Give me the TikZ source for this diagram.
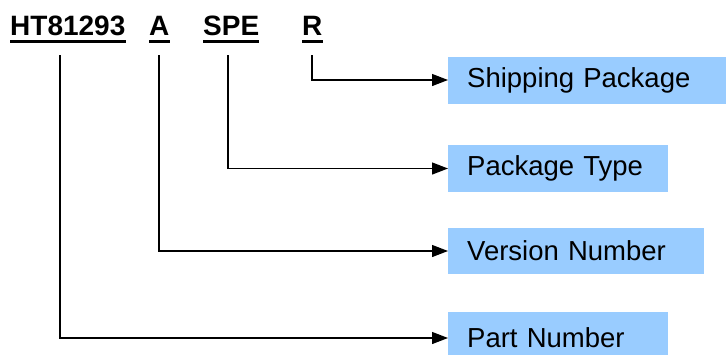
\documentclass[tikz,border=0pt]{standalone}
\usepackage{fontspec}
\setmainfont{Liberation Sans}
\usetikzlibrary{arrows.meta,calc}
\definecolor{boxblue}{RGB}{153,204,255}
\begin{document}
\begin{tikzpicture}[x=1pt,y=-1pt,
  code/.style={font=\fontsize{28}{30}\selectfont\bfseries, inner sep=0pt, anchor=base west},
  uline/.style={line width=2.6pt},
  lead/.style={line width=1.3pt, -{Triangle[length=16pt,width=12pt]}},
  infobox/.style={fill=boxblue, anchor=west, inner xsep=19pt, inner ysep=0pt, align=left,
    font=\fontsize{27.5}{30}\selectfont}]
\useasboundingbox (0,0) rectangle (726,354);
% code labels
\node[code] (ht) at (10,35) {HT81293};
\node[code] (a) at (149,35) {A};
\node[code] (spe) at (203,35) {SPE};
\node[code] (r) at (302,35) {R};
\foreach \n in {ht,a,spe,r}{
  \draw[uline] ($(\n.base west)+(0,6.5)$) -- ($(\n.base east)+(0,6.5)$);
}
% line starts
\coordinate (hts) at (60,55);
\coordinate (as) at (159,55);
\coordinate (spes) at (228,55);
\coordinate (rs) at (312,55);
% boxes
\node[infobox, minimum height=47pt, text width=240pt] (ship) at (448,80) {Shipping Package};
\node[infobox, minimum height=47pt, text width=182pt] (ptype) at (448,168.5) {Package Type};
\node[infobox, minimum height=46pt, text width=218pt] (ver) at (448,251) {Version Number};
\node[infobox, minimum height=52pt, text width=182pt] (part) at (448,338) {Part Number};
% connectors
\draw[lead] (rs) |- (ship.west);
\draw[lead] (spes) |- (ptype.west);
\draw[lead] (as) |- (ver.west);
\draw[lead] (hts) |- (part.west);
\end{tikzpicture}
\end{document}
